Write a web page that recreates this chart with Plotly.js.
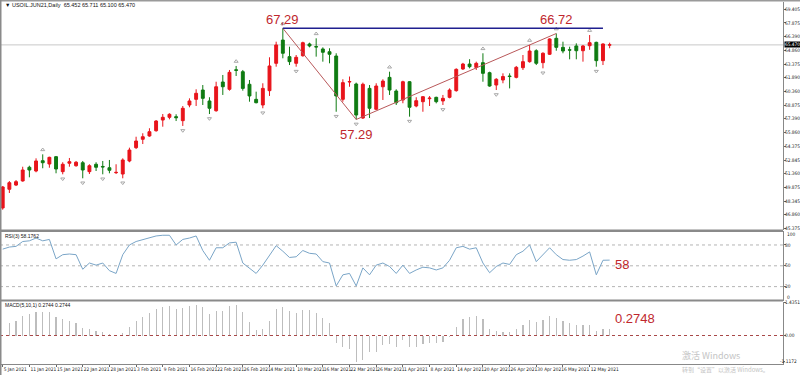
<!DOCTYPE html>
<html><head><meta charset="utf-8">
<script src="https://cdn.plot.ly/plotly-3.0.1.min.js"></script>
<style>html,body{margin:0;padding:0;background:#fff;}#chart{width:800px;height:375px;}</style>
</head><body><div id="chart"></div>
<script>
const dates = ['2021-01-05','2021-01-06','2021-01-07','2021-01-08','2021-01-11','2021-01-12','2021-01-13','2021-01-14','2021-01-15','2021-01-19','2021-01-20','2021-01-21','2021-01-22','2021-01-25','2021-01-26','2021-01-27','2021-01-28','2021-01-29',
'2021-02-01','2021-02-02','2021-02-03','2021-02-04','2021-02-05','2021-02-08','2021-02-09','2021-02-10','2021-02-11','2021-02-12','2021-02-16','2021-02-17','2021-02-18','2021-02-19','2021-02-22','2021-02-23','2021-02-24','2021-02-25','2021-02-26',
'2021-03-01','2021-03-02','2021-03-03','2021-03-04','2021-03-05','2021-03-08','2021-03-09','2021-03-10','2021-03-11','2021-03-12','2021-03-15','2021-03-16','2021-03-17','2021-03-18','2021-03-19','2021-03-22','2021-03-23','2021-03-24','2021-03-25','2021-03-26','2021-03-29','2021-03-30','2021-03-31',
'2021-04-01','2021-04-05','2021-04-06','2021-04-07','2021-04-08','2021-04-09','2021-04-12','2021-04-13','2021-04-14','2021-04-15','2021-04-16','2021-04-19','2021-04-20','2021-04-21','2021-04-22','2021-04-23','2021-04-26','2021-04-27','2021-04-28','2021-04-29','2021-04-30',
'2021-05-03','2021-05-04','2021-05-05','2021-05-06','2021-05-07','2021-05-10','2021-05-11','2021-05-12','2021-05-13','2021-05-14','2021-05-17'];

const openP = [47.59,49.64,50.10,50.55,52.05,51.64,52.77,52.41,53.21,51.57,52.49,52.22,52.55,51.57,52.38,52.14,52.00,51.46,
51.31,52.74,54.20,55.12,55.48,56.06,57.23,57.53,57.60,57.16,58.88,59.50,60.52,59.32,58.25,61.40,60.60,62.74,62.53,
61.15,59.50,58.88,60.45,63.45,66.00,64.18,63.45,64.28,65.57,65.28,65.02,64.72,64.25,59.50,61.40,61.18,57.45,60.70,58.41,60.88,61.91,60.41,
59.43,61.43,58.77,59.24,59.57,59.72,59.32,59.72,60.45,62.83,63.37,63.00,63.52,62.42,61.07,61.62,62.06,61.91,62.97,63.63,64.83,
63.52,64.44,66.19,65.20,64.93,65.35,64.83,65.38,65.75,63.74,65.452];
const highP = [50.00,50.54,50.65,52.11,52.22,53.03,53.47,53.21,53.29,52.60,53.07,52.74,52.74,52.38,52.60,52.74,52.85,52.38,
53.03,54.20,55.40,55.78,56.33,57.23,57.89,57.97,57.86,58.77,59.61,60.60,61.07,59.73,61.43,62.17,62.72,63.16,62.72,
61.62,60.34,61.26,64.11,65.82,67.29,65.27,64.36,65.82,65.71,66.19,65.20,65.10,64.55,61.70,62.00,61.33,61.33,61.07,61.26,61.70,62.53,60.60,
61.54,61.50,59.73,59.86,59.86,59.79,59.98,60.70,62.90,63.50,63.90,63.63,64.55,62.53,61.82,62.35,62.35,63.16,64.36,65.46,64.99,
64.66,66.19,66.72,65.82,65.27,65.64,65.46,66.55,65.82,65.64,65.711];
const lowP = [47.40,49.23,49.99,50.47,50.95,51.50,51.94,52.00,51.39,51.28,52.11,52.11,50.84,51.31,51.64,51.28,51.39,51.31,
50.84,52.60,54.05,54.60,55.40,55.95,56.50,57.31,57.12,56.58,58.63,58.77,58.88,57.89,58.14,59.98,60.45,62.06,60.45,
59.24,59.06,58.52,59.87,63.08,64.00,63.26,63.08,64.18,65.20,64.18,63.63,63.45,58.14,59.24,60.88,57.29,57.35,57.45,58.33,59.43,59.98,58.88,
59.07,57.60,58.63,58.14,58.77,59.06,58.88,59.61,60.34,62.72,62.90,62.72,61.43,60.88,60.52,61.26,60.70,61.80,62.72,63.52,63.26,
62.90,64.36,64.83,64.55,63.89,63.89,63.63,64.93,63.08,63.26,65.100];
const closeP = [49.89,50.36,50.47,51.75,51.75,52.74,52.55,53.14,51.86,52.38,52.66,52.60,51.75,52.22,52.05,52.09,51.72,51.49,
52.85,53.94,54.93,55.40,55.95,57.12,57.53,57.86,57.49,58.52,59.32,60.16,59.61,58.52,60.88,60.88,62.46,62.68,60.70,
59.87,59.13,60.70,63.16,65.46,64.55,63.63,64.11,65.71,65.35,65.25,64.66,64.44,59.87,61.33,61.45,57.78,61.15,58.52,60.96,61.50,60.52,59.13,
61.43,58.63,59.35,59.79,59.63,59.24,59.61,60.52,62.79,63.37,63.08,63.45,62.35,60.96,61.70,62.00,62.00,63.01,63.63,64.80,63.45,
64.55,66.12,65.20,64.80,64.90,64.83,65.35,65.71,63.74,65.57,65.470];

const rsi = [74,77,78,85,86,90,86,88,60,66,67,66,45,54,51,54,43,39,
66,80,85,88,90,93,94,94,80,88,90,93,72,58,76,76,83,84,54,
47,39,51,66,79,71,62,63,72,68,67,56,54,21,37,39,21,47,37,51,54,49,39,
51,39,44,48,47,44,47,58,76,78,74,76,54,40,49,54,52,66,71,80,56,
66,76,66,59,58,59,64,70,37,58,58.18];

const macd = [null,0.55,0.64,0.84,0.91,1.02,1.02,1.02,0.78,0.69,0.64,0.52,0.31,0.27,0.19,0.15,0.07,0.02,
0.12,0.38,0.64,0.81,0.95,1.14,1.24,1.27,1.13,1.17,1.27,1.31,1.21,0.92,1.07,1.07,1.27,1.31,1.02,
0.59,0.24,0.27,0.64,1.15,1.21,1.05,0.95,1.10,1.10,0.95,0.75,0.55,-0.31,-0.51,-0.56,-1.12,-1.05,-0.69,-0.69,-0.41,-0.36,-0.51,
-0.19,-0.51,-0.51,-0.36,-0.33,-0.33,-0.26,-0.08,0.38,0.69,0.78,0.84,0.69,0.27,0.19,0.17,0.15,0.28,0.45,0.67,0.59,
0.67,0.84,0.74,0.64,0.52,0.45,0.45,0.47,0.21,0.27,0.2744];

const priceTicks = [69.405,67.875,66.390,64.860,63.375,61.890,60.360,58.875,57.390,55.860,54.375,52.845,51.360,49.875,48.345,46.860,45.375];
const rsiTicks = [80,50,20];
const macdTicks = [1.4351,0];
const macdTickText = ['1.4351','0.00'];
const macdMin = -1.1172;
const dateTickIdx = [0,4,8,12,16,20,24,28,32,36,40,44,48,52,56,60,64,68,72,76,80,84,88];
const dateTickText = ['5 Jan 2021','11 Jan 2021','15 Jan 2021','22 Jan 2021','28 Jan 2021','3 Feb 2021','9 Feb 2021','16 Feb 2021','22 Feb 2021','26 Feb 2021','4 Mar 2021','10 Mar 2021','16 Mar 2021','22 Mar 2021','26 Mar 2021','1 Apr 2021','8 Apr 2021','14 Apr 2021','20 Apr 2021','26 Apr 2021','30 Apr 2021','6 May 2021','12 May 2021'];

const upFractals = [6,35,42,47,58,72,79,83,88];
const downFractals = [9,12,15,18,27,31,39,44,50,53,61,66,74,81,89];
const zigzagIdx = [42,53,83];
const zigzagVal = [67.29,57.29,66.72];
const zigzagText = ['67,29','57.29','66.72'];
const levelIdx = [42,90];
const levelVal = 67.29;
const lastPrice = 65.470;
const lastRsiText = '58';
const lastMacdText = '0.2748';

const W = 783, H = 375;
const px = v => v / W;
const py = v => 1 - v / H;
const font = 'Liberation Sans, Arial, sans-serif';
const small = 'DejaVu Sans Condensed, Liberation Sans Narrow, Liberation Sans, sans-serif';
const red = '#e8141b', green = '#0f7b12';

const traces = [
  {type:'candlestick', x:dates, open:openP, high:highP, low:lowP, close:closeP, xaxis:'x', yaxis:'y',
   increasing:{line:{color:red,width:1}, fillcolor:red},
   decreasing:{line:{color:green,width:1}, fillcolor:green},
   whiskerwidth:0, hoverinfo:'skip', showlegend:false},
  {type:'scatter', mode:'markers', x:upFractals.map(i=>dates[i]), y:upFractals.map(i=>highP[i]+0.5),
   marker:{symbol:'triangle-up-open', size:3.5, color:'#a8a8a8', line:{width:1,color:'#a8a8a8'}}, yaxis:'y', showlegend:false, hoverinfo:'skip'},
  {type:'scatter', mode:'markers', x:downFractals.map(i=>dates[i]), y:downFractals.map(i=>lowP[i]-0.5),
   marker:{symbol:'triangle-down-open', size:3.5, color:'#a8a8a8', line:{width:1,color:'#a8a8a8'}}, yaxis:'y', showlegend:false, hoverinfo:'skip'},
  {type:'scatter', mode:'lines', x:zigzagIdx.map(i=>dates[i]), y:zigzagVal, line:{color:'#b9585a', width:1}, yaxis:'y', showlegend:false, hoverinfo:'skip'},
  {type:'scatter', mode:'lines', x:levelIdx.map(i=>dates[i]), y:[levelVal,levelVal], line:{color:'#1f1f8f', width:1.5}, yaxis:'y', showlegend:false, hoverinfo:'skip'},
  {type:'scatter', mode:'lines', x:dates, y:rsi, line:{color:'#7aa5c7', width:1}, yaxis:'y2', showlegend:false, hoverinfo:'skip'},
  {type:'bar', x:dates, y:macd, width:0.18, marker:{color:'#bdbdbd', line:{width:0}}, yaxis:'y3', showlegend:false, hoverinfo:'skip'}
];

const tickFont = {family:small, size:4.8, color:'#222'};

const annotations = [
  {xref:'paper', yref:'paper', x:px(3), y:py(5), xanchor:'left', yanchor:'middle', showarrow:false,
   text:'▼ USOIL.JUN21,Daily  65.452 65.711 65.100 65.470', font:{family:font, size:5.5, color:'#111'}},
  {xref:'paper', yref:'paper', x:px(3), y:py(236), xanchor:'left', yanchor:'middle', showarrow:false,
   text:'RSI(3) 58.1762', font:{family:font, size:5, color:'#111'}},
  {xref:'paper', yref:'paper', x:px(3), y:py(305), xanchor:'left', yanchor:'middle', showarrow:false,
   text:'MACD(5,10,1) 0.2744 0.2744', font:{family:font, size:5, color:'#111'}},
  {xref:'x', yref:'y', x:dates[zigzagIdx[0]], y:zigzagVal[0], yshift:9, xanchor:'center', yanchor:'middle', showarrow:false,
   text:zigzagText[0], font:{family:font, size:13, color:'#c0272d'}},
  {xref:'x', yref:'y', x:dates[zigzagIdx[1]], y:zigzagVal[1], yshift:-15, xanchor:'center', yanchor:'middle', showarrow:false,
   text:zigzagText[1], font:{family:font, size:13, color:'#c0272d'}},
  {xref:'x', yref:'y', x:dates[zigzagIdx[2]], y:zigzagVal[2], yshift:14, xanchor:'center', yanchor:'middle', showarrow:false,
   text:zigzagText[2], font:{family:font, size:13, color:'#c0272d'}},
  {xref:'paper', yref:'paper', x:px(622), y:py(264), xanchor:'center', yanchor:'middle', showarrow:false,
   text:lastRsiText, font:{family:font, size:13, color:'#c0272d'}},
  {xref:'paper', yref:'paper', x:px(635), y:py(318), xanchor:'center', yanchor:'middle', showarrow:false,
   text:lastMacdText, font:{family:font, size:13, color:'#c0272d'}},
  {xref:'paper', yref:'y', x:1, y:lastPrice, xanchor:'left', yanchor:'middle', xshift:1, showarrow:false,
   text:lastPrice.toFixed(3), bgcolor:'#000', borderpad:0, font:{family:small, size:4.8, color:'#fff'}},
  {xref:'paper', yref:'paper', x:1, y:py(234), xanchor:'left', yanchor:'middle', xshift:2, showarrow:false,
   text:'100', font:tickFont},
  {xref:'paper', yref:'paper', x:1, y:py(297), xanchor:'left', yanchor:'middle', xshift:2, showarrow:false,
   text:'0', font:tickFont},
  {xref:'paper', yref:'y3', x:799/W, y:macdMin, xanchor:'right', yanchor:'middle', showarrow:false,
   text:macdMin.toFixed(4), font:tickFont},
  {xref:'paper', yref:'paper', x:px(680), y:py(355), xanchor:'left', yanchor:'middle', showarrow:false,
   text:'激活 Windows', font:{family:'Noto Sans CJK SC, sans-serif', size:9, color:'#c4c4c4'}},
  {xref:'paper', yref:'paper', x:px(680), y:py(369), xanchor:'left', yanchor:'middle', showarrow:false,
   text:'转到“设置”以激活 Windows。', font:{family:'Noto Sans CJK SC, sans-serif', size:6, color:'#c4c4c4'}}
];

const shapes = [
  {type:'line', xref:'paper', yref:'y', x0:0, x1:1, y0:lastPrice, y1:lastPrice, line:{color:'#c8c8c8', width:1}, layer:'below'},
  ...rsiTicks.map(v=>({type:'line', xref:'paper', yref:'y2', x0:0, x1:1, y0:v, y1:v, line:{color:'#b4b4b4', width:1, dash:'dot'}, layer:'below'})),
  {type:'line', xref:'paper', yref:'y3', x0:0, x1:1, y0:0, y1:0, line:{color:'#a84848', width:1, dash:'dot'}, layer:'above'},
  {type:'line', xref:'paper', yref:'y3', x0:1, x1:1+2/W, y0:macdMin, y1:macdMin, line:{color:'#666', width:1}, layer:'above'},
  {type:'rect', xref:'paper', yref:'paper', x0:0, x1:1, y0:py(232), y1:py(229.5), fillcolor:'#8a8a8a', line:{width:0}, layer:'above'},
  {type:'rect', xref:'paper', yref:'paper', x0:0, x1:1, y0:py(301.5), y1:py(299.5), fillcolor:'#8a8a8a', line:{width:0}, layer:'above'},
  {type:'rect', xref:'paper', yref:'paper', x0:0, x1:800/W, y0:py(1.5), y1:1, fillcolor:'#9a9a9a', line:{width:0}, layer:'above'},
  {type:'rect', xref:'paper', yref:'paper', x0:0, x1:px(1.5), y0:0, y1:1, fillcolor:'#8a8a8a', line:{width:0}, layer:'above'}
];

const yCommon = {side:'right', anchor:'x', showgrid:false, zeroline:false, ticks:'outside', ticklen:2, tickcolor:'#666',
  ticklabelstandoff:-2, tickfont:tickFont, showline:true, linecolor:'#888', linewidth:1, fixedrange:true};

const layout = {
  width:800, height:375, margin:{l:0, r:17, t:0, b:0}, paper_bgcolor:'#fff', plot_bgcolor:'#fff',
  showlegend:false, boxgap:0.38, bargap:0,
  font:{family:font, size:6, color:'#222'},
  xaxis:{type:'category', range:[-0.405, 116.99], anchor:'y3', showgrid:false, zeroline:false,
    tickvals:dateTickIdx.map(i=>dates[i]), ticktext:dateTickText, tickangle:0, ticks:'outside', ticklen:2, tickcolor:'#666',
    ticklabelposition:'outside right', tickfont:tickFont, showline:true, linecolor:'#888', linewidth:1,
    rangeslider:{visible:false}, fixedrange:true},
  yaxis:Object.assign({domain:[py(230), py(2)], range:[45.172, 70.173],
    tickvals:priceTicks, ticktext:priceTicks.map(v=>v.toFixed(3))}, yCommon),
  yaxis2:Object.assign({domain:[py(300.5), py(231.1)], range:[0,100],
    tickvals:rsiTicks, ticktext:rsiTicks.map(String)}, yCommon),
  yaxis3:Object.assign({domain:[py(364), py(302)], range:[-1.223, 1.438],
    tickvals:macdTicks, ticktext:macdTickText}, yCommon),
  annotations, shapes
};

Plotly.newPlot('chart', traces, layout, {staticPlot:true, displayModeBar:false});
</script>
</body></html>
